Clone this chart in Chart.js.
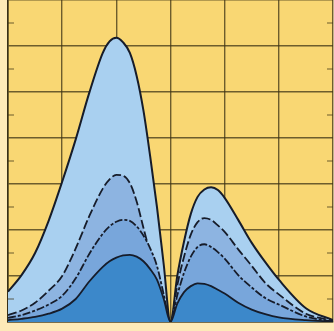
<!DOCTYPE html>
<html>
<head>
<meta charset="utf-8">
<script src="https://cdn.jsdelivr.net/npm/chart.js@4"></script>
<style>
  html, body { margin: 0; padding: 0; background: #fdeab8; }
  #wrap { width: 334px; height: 331px; }
</style>
</head>
<body>
<div id="wrap"><canvas id="c"></canvas></div>
<script>
const xs = [0, 0.25, 0.5, 0.75, 1, 1.25, 1.5, 1.75, 1.875, 2, 2.125, 2.25, 2.375, 2.5, 2.625, 2.75, 2.875, 3,
            3.125, 3.25, 3.375, 3.5, 3.625, 3.75, 3.875, 4, 4.25, 4.5, 4.75, 5, 5.5, 6];
const outer  = [0.66, 1.02, 1.5, 2.2, 3.05, 3.97, 4.98, 5.85, 6.1, 6.18, 6.08, 5.85, 5.35, 4.6, 3.6, 2.5, 1.25, 0,
                1.0, 1.75, 2.35, 2.72, 2.88, 2.93, 2.87, 2.7, 2.22, 1.72, 1.3, 0.92, 0.3, 0.04];
const second = [0.15, 0.25, 0.42, 0.68, 1.0, 1.6, 2.3, 2.9, 3.1, 3.2, 3.18, 3.02, 2.62, 2.05, 1.5, 1.05, 0.5, 0,
                0.8, 1.42, 1.9, 2.17, 2.26, 2.22, 2.1, 1.96, 1.58, 1.22, 0.85, 0.6, 0.18, 0.03];
const third  = [0.09, 0.15, 0.25, 0.38, 0.57, 0.95, 1.48, 1.92, 2.08, 2.18, 2.22, 2.2, 2.08, 1.88, 1.6, 1.22, 0.6, 0,
                0.58, 1.07, 1.42, 1.63, 1.69, 1.63, 1.52, 1.38, 1.02, 0.75, 0.52, 0.38, 0.12, 0.01];
const inner  = [0.04, 0.07, 0.11, 0.18, 0.29, 0.5, 0.88, 1.2, 1.32, 1.4, 1.45, 1.46, 1.42, 1.32, 1.15, 0.92, 0.5, 0,
                0.4, 0.65, 0.78, 0.84, 0.83, 0.78, 0.7, 0.62, 0.42, 0.27, 0.17, 0.1, 0.04, 0.01];
const xTicks = [0, 1, 2, 3, 4, 5, 6];
const yTicks = [0, 1, 2, 3, 4, 5, 6, 7];

const GRID = "rgba(62,52,22,0.75)";

const pts = vals => xs.map((x, i) => ({ x, y: vals[i] }));

function ds(vals, fill, dash, width) {
  return {
    data: pts(vals),
    borderColor: "#161c2a",
    borderWidth: width,
    borderDash: dash,
    backgroundColor: fill,
    fill: "origin",
    pointRadius: 0,
    cubicInterpolationMode: "monotone"
  };
}

const plotBg = {
  id: "plotBg",
  beforeDraw(chart) {
    const { ctx, chartArea: a } = chart;
    ctx.save();
    ctx.fillStyle = "#f9d773";
    ctx.fillRect(a.left, a.top, a.right - a.left, a.bottom - a.top);
    ctx.restore();
  }
};

// short half-step ticks on left and right edges
const halfTicks = {
  id: "halfTicks",
  afterDraw(chart) {
    const { ctx, chartArea: a, scales } = chart;
    ctx.save();
    ctx.strokeStyle = GRID;
    ctx.lineWidth = 1.2;
    yTicks.slice(0, -1).forEach(v => {
      const py = scales.y.getPixelForValue(v + 0.5);
      ctx.beginPath();
      ctx.moveTo(a.left, py); ctx.lineTo(a.left + 6, py);
      ctx.moveTo(a.right, py); ctx.lineTo(a.right - 6, py);
      ctx.stroke();
    });
    ctx.restore();
  }
};

new Chart(document.getElementById("c"), {
  type: "line",
  data: {
    datasets: [
      ds(inner, "#3c88ca", [], 1.8),
      ds(third, "#78a6db", [8, 2, 3, 2], 1.8),
      ds(second, "#8db4e1", [9, 3], 1.8),
      ds(outer, "#a9d0f0", [], 2)
    ]
  },
  options: {
    responsive: true,
    maintainAspectRatio: false,
    animation: false,
    layout: { padding: { left: 8, right: 1, top: 0, bottom: 9 } },
    plugins: { legend: { display: false }, tooltip: { enabled: false } },
    scales: {
      x: {
        type: "linear", min: 0, max: 6, z: 1,
        afterBuildTicks: s => { s.ticks = xTicks.map(v => ({ value: v })); },
        ticks: { display: false },
        grid: { color: GRID, lineWidth: 1.4, drawTicks: false },
        border: { color: "rgba(50,42,20,0.9)", width: 1.6 }
      },
      y: {
        min: 0, max: 7, z: 1,
        afterBuildTicks: s => { s.ticks = yTicks.map(v => ({ value: v })); },
        ticks: { display: false },
        grid: { color: GRID, lineWidth: 1.4, drawTicks: false },
        border: { color: "rgba(50,42,20,0.9)", width: 1.6 }
      }
    }
  },
  plugins: [plotBg, halfTicks]
});
</script>
</body>
</html>
